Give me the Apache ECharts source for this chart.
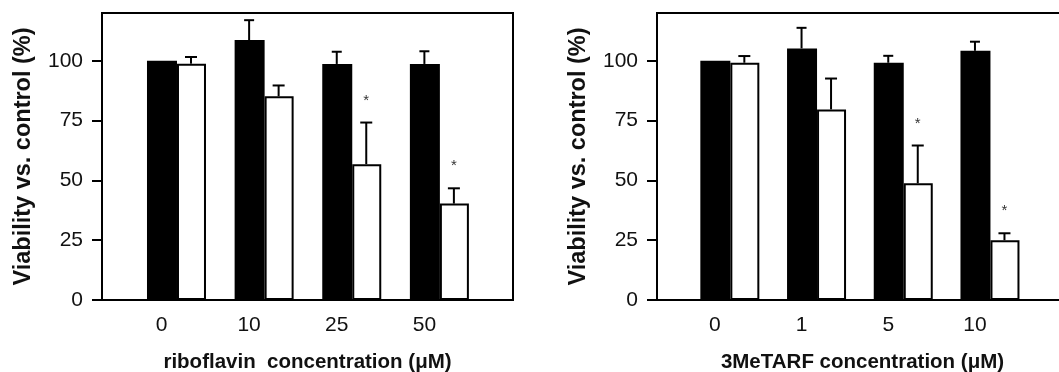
<!DOCTYPE html>
<html>
<head>
<meta charset="utf-8">
<script src="https://cdn.jsdelivr.net/npm/echarts@6/dist/echarts.min.js"></script>
<style>
  html, body {margin: 0; padding: 0; background: #fff;}
  #chart {width: 1059px; height: 372px;}
</style>
</head>
<body>
<div id="chart"></div>
<script>
// 横轴分类
const riboCats = ['0', '10', '25', '50'];
const metCats = ['0', '1', '5', '10'];
const yTicks = [0, 25, 50, 75, 100];

// riboflavin 图 (黑 = 对照, 白 = 处理)
const riboBlack = [100, 108.7, 98.7, 98.7];
const riboBlackErr = [0, 8.3, 5.1, 5.3];
const riboWhite = [98.8, 85.2, 56.8, 40.3];
const riboWhiteErr = [2.8, 4.5, 17.4, 6.4];
const riboSig = [0, 0, 1, 1];

// 3MeTARF 图
const metBlack = [100, 105.2, 99.2, 104.2];
const metBlackErr = [0, 8.6, 2.9, 3.8];
const metWhite = [99.2, 79.7, 48.8, 25];
const metWhiteErr = [2.8, 12.9, 15.8, 2.9];
const metSig = [0, 0, 1, 1];

const BLACK_W = 30;
const WHITE_W = 29;
const FONT = 'Liberation Sans, Arial, sans-serif';

let chart = echarts.init(document.getElementById('chart'));

function errSeries(idx, vals, errs, sig, dx, cap) {
  return {
    type: 'custom',
    xAxisIndex: idx,
    yAxisIndex: idx,
    z: 5,
    data: vals.map((v, i) => [i, v, errs[i], sig[i]]),
    renderItem(params, api) {
      const base = api.coord([api.value(0), api.value(1)]);
      const top = api.coord([api.value(0), api.value(1) + api.value(2)]);
      const x = base[0] + dx;
      const children = [];
      if (api.value(2) > 0) {
        children.push({
          type: 'line',
          shape: {x1: x, y1: base[1], x2: x, y2: top[1]},
          style: {stroke: '#000', lineWidth: 2}
        }, {
          type: 'line',
          shape: {x1: x - cap / 2, y1: top[1], x2: x + cap / 2, y2: top[1]},
          style: {stroke: '#000', lineWidth: 2}
        });
      }
      if (api.value(3)) {
        children.push({
          type: 'text',
          style: {
            x: x, y: top[1] - 22, text: '*',
            fill: '#333', font: '15px ' + FONT,
            align: 'center', verticalAlign: 'middle'
          }
        });
      }
      return {type: 'group', children: children};
    }
  };
}

function barSeries(idx, black, white) {
  return [{
    type: 'bar',
    xAxisIndex: idx,
    yAxisIndex: idx,
    barWidth: BLACK_W,
    barGap: '0%',
    itemStyle: {color: '#000'},
    data: black.map((v, i) => [i, v])
  }, {
    type: 'bar',
    xAxisIndex: idx,
    yAxisIndex: idx,
    barWidth: WHITE_W,
    barGap: '0%',
    itemStyle: {color: '#fff', borderColor: '#000', borderWidth: 2},
    data: white.map((v, i) => [i, v])
  }];
}

function xAxis(idx, cats, name, min, max) {
  return {
    type: 'value',
    gridIndex: idx,
    min: min,
    max: max,
    name: name,
    nameLocation: 'middle',
    nameGap: 52,
    nameTextStyle: {fontFamily: FONT, fontWeight: 'bold', fontSize: 20.5, color: '#111'},
    axisLine: {show: true, onZero: false, lineStyle: {color: '#000', width: 2}},
    axisTick: {show: false},
    splitLine: {show: false},
    axisLabel: {
      customValues: [0, 1, 2, 3],
      formatter: (v) => cats[Math.round(v)],
      fontFamily: FONT, fontSize: 21, color: '#111',
      margin: 15,
      padding: [0, 30, 0, 0]
    }
  };
}

function yAxis(idx) {
  return {
    type: 'value',
    gridIndex: idx,
    min: 0,
    max: 120,
    name: 'Viability vs. control (%)',
    nameLocation: 'middle',
    nameGap: 66,
    nameRotate: 90,
    nameTextStyle: {fontFamily: FONT, fontWeight: 'bold', fontSize: 23.5, color: '#111'},
    axisLine: {show: true, onZero: false, lineStyle: {color: '#000', width: 2}},
    axisTick: {show: true, length: 10, customValues: yTicks, lineStyle: {color: '#000', width: 2}},
    splitLine: {show: false},
    axisLabel: {customValues: yTicks, fontFamily: FONT, fontSize: 21, color: '#111', margin: 19}
  };
}

chart.setOption({
  animation: false,
  backgroundColor: '#fff',
  grid: [
    {left: 102, top: 13, width: 411, height: 287, outerBoundsMode: 'none', show: true, borderColor: '#000', borderWidth: 2},
    {left: 657, top: 13, width: 411, height: 287, outerBoundsMode: 'none', show: true, borderColor: '#000', borderWidth: 2}
  ],
  xAxis: [
    xAxis(0, riboCats, 'riboflavin  concentration (μM)', -0.85, 3.84),
    xAxis(1, metCats, '3MeTARF concentration (μM)', -0.84, 3.9)
  ],
  yAxis: [yAxis(0), yAxis(1)],
  series: [
    ...barSeries(0, riboBlack, riboWhite),
    ...barSeries(1, metBlack, metWhite),
    errSeries(0, riboBlack, riboBlackErr, [0, 0, 0, 0], -WHITE_W / 2 - 0.5, 10),
    errSeries(0, riboWhite, riboWhiteErr, riboSig, BLACK_W / 2 - 0.5, 12),
    errSeries(1, metBlack, metBlackErr, [0, 0, 0, 0], -WHITE_W / 2 - 0.5, 10),
    errSeries(1, metWhite, metWhiteErr, metSig, BLACK_W / 2 - 0.5, 12)
  ]
});
</script>
</body>
</html>
